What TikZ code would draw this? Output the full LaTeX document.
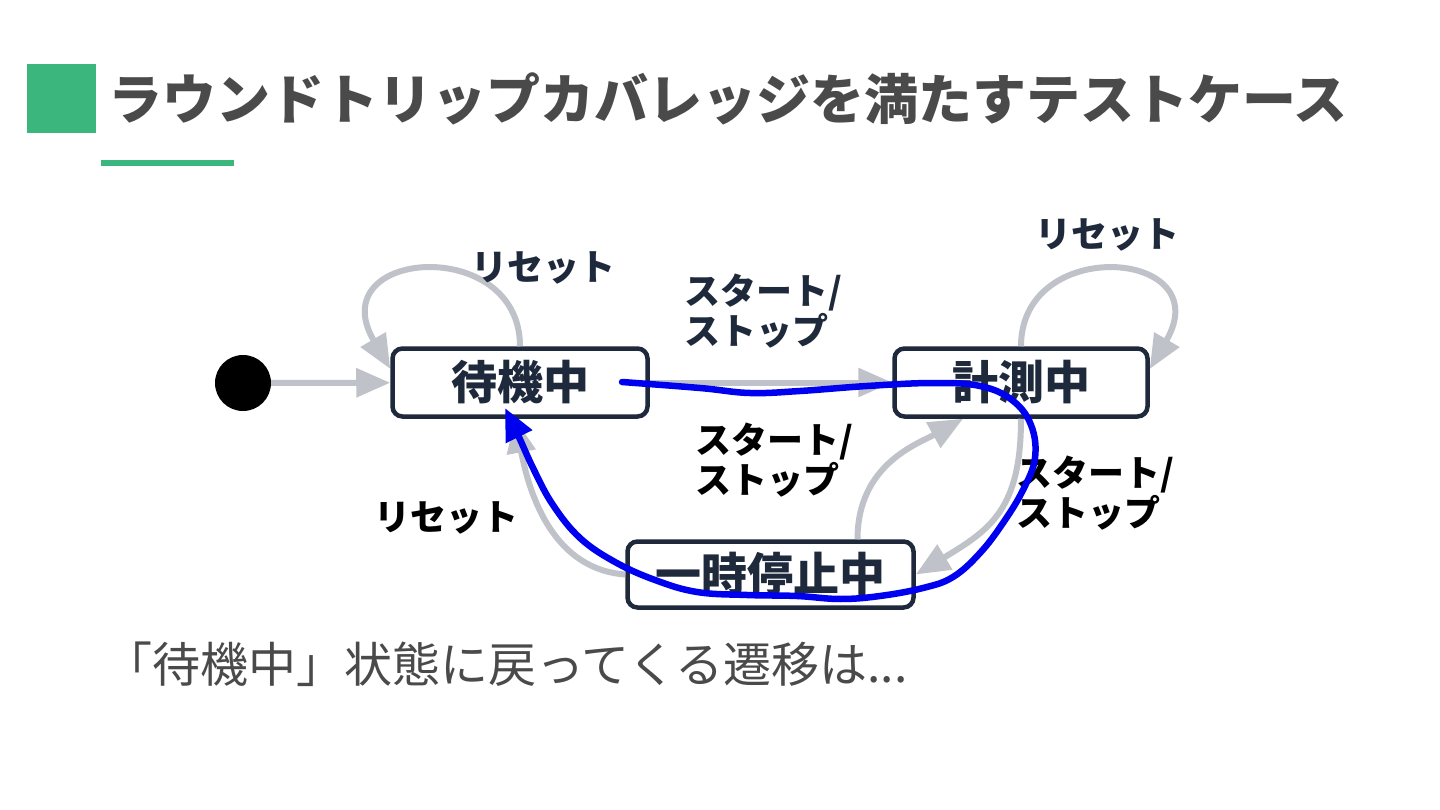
\documentclass[tikz,border=0pt]{standalone}
\usepackage{fontspec}
\setmainfont{Noto Sans CJK JP}
\usepackage{tikz}
\usetikzlibrary{arrows.meta, positioning, calc}

\definecolor{accent}{HTML}{3BB77E}
\definecolor{heading}{HTML}{4A4A4A}
\definecolor{ink}{HTML}{1E293B}
\definecolor{wire}{HTML}{BFC2C9}
\definecolor{pen}{HTML}{0000F0}

\begin{document}
\begin{tikzpicture}[
    x=1pt, y=-1pt,
    state/.style={rectangle, draw=ink, line width=4.5pt, rounded corners=10pt, fill=white, text=ink, font=\bfseries\fontsize{46}{50}\selectfont, inner sep=0pt},
    trans/.style={draw=wire, line width=6pt, -{Triangle[length=34pt,width=28pt]}},
    tlabel/.style={font=\bfseries\fontsize{36}{40}\selectfont, align=left, inner sep=0pt},
    tour/.style={draw=pen, line width=6.5pt, line join=round, line cap=round, -{Triangle[length=32pt,width=28pt]}}
  ]

    % 背景（画像サイズを固定）
    \fill[white] (0,0) rectangle (1440,810);

    % 見出し
    \node[fill=accent, minimum size=69pt, inner sep=0pt] (mark) at (61.5,99) {};
    \node[anchor=west, text=heading, font=\bfseries\fontsize{54}{60}\selectfont, inner sep=0pt] (title) at (108,99) {ラウンドトリップカバレッジを満たすテストケース};
    \node[fill=accent, minimum width=133pt, minimum height=6pt, inner sep=0pt, anchor=north west] (rule) at (101,160) {};

    % 状態
    \node[circle, fill=black, minimum size=56pt, inner sep=0pt] (init) at (243,383) {};
    \node[state, minimum width=255pt, minimum height=68pt] (wait) at (520,382.5) {待機中};
    \node[state, minimum width=253pt, minimum height=68pt] (meas) at (1021,382.5) {計測中};
    \node[state, minimum width=286pt, minimum height=66pt] (pause) at (770.5,574.5) {一時停止中};

    % 遷移
    \draw[trans] (init) -- (wait);
    \draw[trans] (wait) -- (meas);
    \draw[trans] (wait.north) .. controls +(0,-112) and +(-70,-120) .. (wait.174);
    \draw[trans] (meas.north) .. controls +(0,-112) and +(70,-120) .. (meas.6);
    \draw[trans] ([xshift=87pt]pause.north) .. controls +(0,-75) and +(-45,25) .. ([xshift=-58pt]meas.south);
    \draw[trans] (meas.south) .. controls +(0,90) and +(75,-45) .. (pause.east);
    \draw[trans] (pause.west) .. controls +(-70,-5) and +(15,80) .. ([xshift=-5pt]wait.south);

    % 遷移ラベル
    \node[tlabel, text=ink] (resetA) at (543,268) {リセット};
    \node[tlabel, text=ink] (resetB) at (1107,235) {リセット};
    \node[tlabel, text=black] (resetC) at (446,518) {リセット};
    \node[tlabel, text=ink, anchor=west] (toggleA) at (684,311) {スタート/\\ストップ};
    \node[tlabel, text=black, anchor=west] (toggleB) at (695,460) {スタート/\\ストップ};
    \node[tlabel, text=black, anchor=west] (toggleC) at (1016,493) {スタート/\\ストップ};

    % 手書きの経路
    \draw[tour] plot[smooth, tension=0.65] coordinates {
      (622,382) (700,388) (750,393) (800,391) (867,386) (933,383) (980,386)
      (1012,400) (1031,425) (1035,458) (1023,490) (1003,523) (980,553)
      (953,577) (923,588) (880,596) (840,599) (797,596) (747,595) (697,592)
      (655,580) (615,562) (580,538) (553,505) (534,470) (518,435) (505,408)};

    % 補足
    \node[anchor=west, text=heading, font=\fontsize{48}{52}\selectfont, inner sep=0pt] (note) at (104,664) {「待機中」状態に戻ってくる遷移は...};

\end{tikzpicture}
\end{document}
